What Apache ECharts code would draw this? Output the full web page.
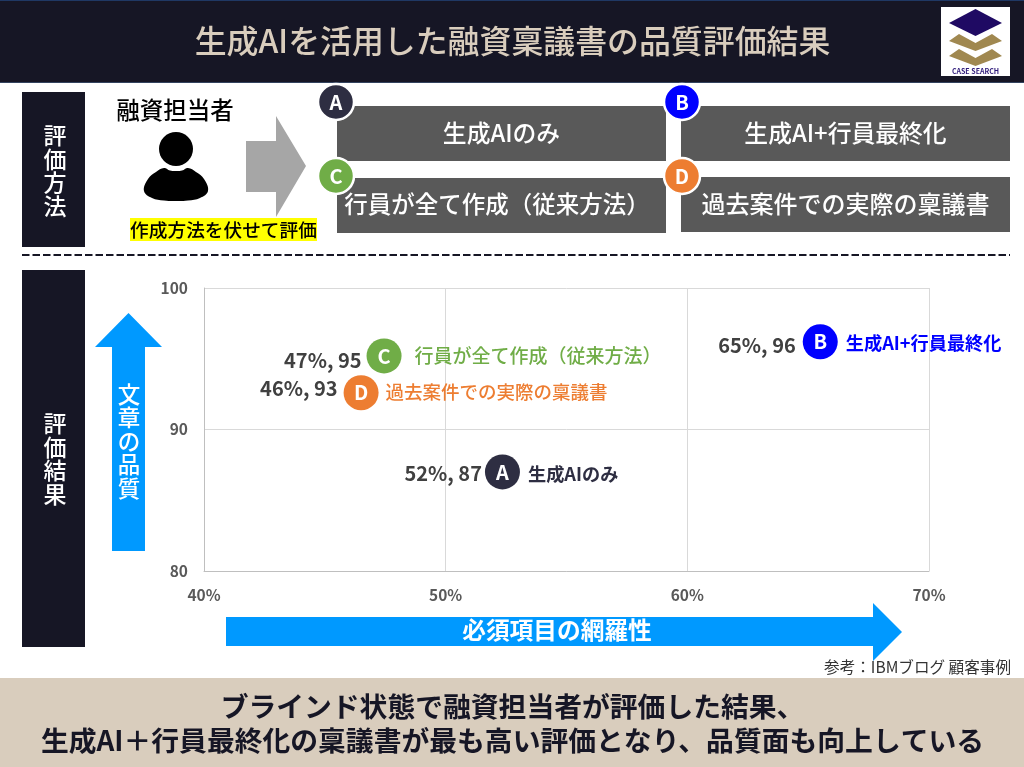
<!DOCTYPE html>
<html><head><meta charset="utf-8">
<style>html,body{margin:0;padding:0;background:#fff}#c{width:1024px;height:767px}</style>
<script src="https://cdn.jsdelivr.net/npm/echarts@6/dist/echarts.min.js"></script>
</head><body><div id="c"></div>
<script>
const letters = ['A','B','C','D'];
const methods = ['生成AIのみ','生成AI+行員最終化','行員が全て作成（従来方法）','過去案件での実際の稟議書'];
const coverage = [52.35,65.5,47.45,46.5];
const quality = [87,96.2,95.2,92.6];
const valueLabels = ['52%, 87','65%, 96','47%, 95','46%, 93'];
const xTicks = [40,50,60,70];
const yTicks = [80,90,100];
const title = '生成AIを活用した融資稟議書の品質評価結果';
const conclusion = 'ブラインド状態で融資担当者が評価した結果、\n生成AI＋行員最終化の稟議書が最も高い評価となり、品質面も向上している';
const source = '参考：IBMブログ 顧客事例';

const FONT = '"Noto Sans CJK JP","Noto Sans",sans-serif';
const NAVY = '#161625', BEIGE = '#d9cdbd', BLUE = '#0099ff', GREY = '#595959';
const colors = ['#2e2e42','#0000ff','#70ad47','#ed7d31'];
const nameColors = ['#2e2e42','#0000ff','#70ad47','#ed7d31'];

const rect = (x,y,w,h,fill,z=1)=>({type:'rect',shape:{x,y,width:w,height:h},style:{fill},z});
const poly = (points,fill,z=2,smooth)=>({type:'polygon',shape:{points,smooth},style:{fill},z});
const text = (x,y,t,size,fill,o={})=>({type:'text',x,y,z:o.z||5,style:{text:t,fontSize:size,fill,fontFamily:FONT,
  fontWeight:o.w||'500',align:o.align||'center',verticalAlign:'middle',lineHeight:o.lh,textShadowBlur:0}});
const badge = (x,y,i)=>({type:'group',z:6,children:[
  {type:'circle',z:6,shape:{cx:x,cy:y,r:18},style:{fill:colors[i],stroke:'#fff',lineWidth:2.5}},
  text(x,y,letters[i],20,'#fff',{w:'bold',z:7})]});

const graphics = [
  rect(0,0,1024,83,NAVY), rect(0,0,1024,1,'#1f3864',2), rect(0,82,1024,1,'#33435f',2),
  text(512.5,41,title,31.9,BEIGE),
  rect(941,7,69,69,'#fff',2),
  poly([[975.5,9],[1002,23],[975.5,36],[949,23]],'#1f0a63',3),
  poly([[949,41],[959,34],[975.5,43],[992,34],[1002,41],[975.5,51]],'#a08850',3),
  poly([[949,56],[959,49],[975.5,58],[992,49],[1002,56],[975.5,66]],'#a08850',3),
  text(975.5,71,'CASE SEARCH',7,'#2e1a7a',{w:'bold',z:4}),

  rect(22,92,63,155,NAVY),
  text(55,171,'評\n価\n方\n法',23,'#fff',{lh:23.5}),
  text(175,110,'融資担当者',23.5,'#000'),
  {type:'circle',z:3,shape:{cx:176,cy:149,r:17},style:{fill:'#000'}},
  poly([[144,191],[148,179],[156,172],[164,168],[170,170.5],[176,171],[182,170.5],[188,168],[196,172],[204,179],[208,191],[200,198],[188,200.5],[176,201],[164,200.5],[152,198]],'#000',3,0.4),
  rect(130,218,187,23,'#ffff00',2),
  text(223.5,230,'作成方法を伏せて評価',18.7,'#000'),
  poly([[246,141],[276,141],[276,116],[306,166],[276,217],[276,192],[246,192]],'#a6a6a6'),

  rect(337,106,329,55,GREY), rect(681,106,329,55,GREY),
  rect(337,178,329,55,GREY), rect(681,177,329,55,GREY),
  text(501.5,132.5,methods[0],23.8,'#fff'), text(845.5,132.5,methods[1],23.8,'#fff'),
  text(497,204,methods[2],23.5,'#fff'), text(845.5,204,methods[3],24,'#fff'),
  badge(336,102,0), badge(682,102,1), badge(336,176,2), badge(682,176,3),

  {type:'line',z:2,shape:{x1:22,y1:255,x2:1010,y2:255},style:{stroke:NAVY,lineWidth:2,lineDash:[7.5,3]}},

  rect(22,270,63,377,NAVY),
  text(55,459,'評\n価\n結\n果',23,'#fff',{lh:23.5}),
  poly([[128.5,313],[162,347],[145,347],[145,551],[112,551],[112,347],[95,347]],BLUE),
  text(129,441,'文\n章\nの\n品\n質',22.5,'#fff',{lh:23.5}),
  poly([[226,617],[873,617],[873,603],[902,632],[873,661],[873,646],[226,646]],BLUE),
  text(557,630,'必須項目の網羅性',23.7,'#fff',{w:'bold'}),
  text(1011,667,source,15.6,'#333',{align:'right',w:'normal'}),

  rect(0,678,1024,89,BEIGE),
  text(512.5,723,conclusion,27.8,NAVY,{w:'bold',lh:34})
];

const pts = coverage.map((x,i)=>[x,quality[i]]);
const valuePos = [{d:20,dy:1},{d:24,dy:4},{d:22,dy:4},{d:23,dy:-4}];
const namePos  = [{d:25,dy:2},{d:25,dy:1},{d:30,dy:0},{d:24,dy:-1}];
const nameSize = [18.2,18.2,19,18.5];

const axisLabel = {margin:16,fontSize:15.5,fontWeight:'bold',color:GREY,fontFamily:FONT,showMaxLabel:true,showMinLabel:true,hideOverlap:false};
const axisCommon = {type:'value',interval:10,axisLine:{show:true,lineStyle:{color:'#bfbfbf',width:1}},axisTick:{show:false},
  splitLine:{show:true,lineStyle:{color:'#d9d9d9',width:1}}};

const hidden = {color:'transparent',opacity:1};
const option = {
  backgroundColor:'#fff', animation:false, textStyle:{fontFamily:FONT},
  grid:{left:204,top:288,width:725,height:283,containLabel:false},
  xAxis:{...axisCommon,min:xTicks[0],max:xTicks[xTicks.length-1],axisLabel:{...axisLabel,formatter:'{value}%'}},
  yAxis:{...axisCommon,min:yTicks[0],max:yTicks[yTicks.length-1],axisLabel},
  graphic:{elements:graphics},
  series:[
    {type:'scatter',z:5,symbolSize:35,silent:true,
      data:pts.map((p,i)=>({value:p,itemStyle:{color:colors[i],opacity:1},
        label:{show:true,position:'inside',formatter:letters[i],color:'#fff',fontSize:20,fontWeight:'bold',fontFamily:FONT}}))},
    {type:'scatter',z:4,symbolSize:1,silent:true,itemStyle:hidden,
      data:pts.map((p,i)=>({value:p,itemStyle:hidden,
        label:{show:true,position:'left',distance:valuePos[i].d,offset:[0,valuePos[i].dy],formatter:valueLabels[i],color:'#404040',fontSize:20,fontWeight:'bold',fontFamily:FONT}}))},
    {type:'scatter',z:4,symbolSize:1,silent:true,itemStyle:hidden,
      data:pts.map((p,i)=>({value:p,itemStyle:hidden,
        label:{show:true,position:'right',distance:namePos[i].d,offset:[0,namePos[i].dy],formatter:methods[i],color:nameColors[i],fontSize:nameSize[i],fontWeight:i<2?'bold':'500',fontFamily:FONT}}))}
  ]
};
const chart = echarts.init(document.getElementById('c'),null,{renderer:'canvas'});
chart.setOption(option);
</script></body></html>
